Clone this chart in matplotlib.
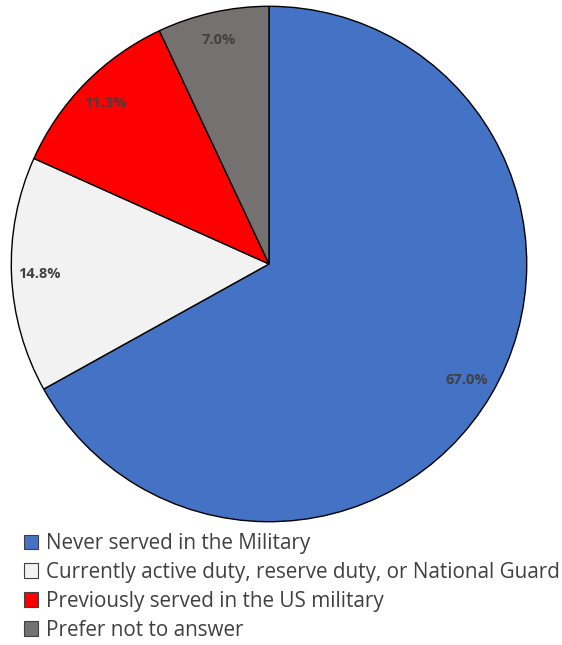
import matplotlib
matplotlib.use("Agg")
import matplotlib.pyplot as plt
from matplotlib.patches import Patch

categories = ["Never served in the Military",
              "Currently active duty, reserve duty, or National Guard",
              "Previously served in the US military",
              "Prefer not to answer"]
values = [67.0, 14.8, 11.3, 7.0]
colors = ["#4472C4", "#F2F2F2", "#FF0000", "#767171"]

W, H = 562, 645
fig = plt.figure(figsize=(W/100, H/100), dpi=100)
cx, cy, r = 269, 264, 259
ax = fig.add_axes([(cx - r)/W, (H - cy - r)/H, 2*r/W, 2*r/H])
wedges, texts, autotexts = ax.pie(values, colors=colors, startangle=90, counterclock=False,
                                  autopct="%.1f%%", pctdistance=0.89, radius=1,
                                  wedgeprops=dict(edgecolor="black", linewidth=1.0),
                                  textprops=dict(fontsize=10.5, fontweight="bold", color="#404040",
                                                 family="Open Sans"))
for t, v in zip(autotexts, values):
    t.set_text(f"{v:.1f}%")
ax.set_xlim(-1.005, 1.005)
ax.set_ylim(-1.005, 1.005)
ax.set_aspect("equal")
ax.axis("off")

handles = [Patch(facecolor=c, edgecolor="#404040", linewidth=0.8) for c in colors]
leg = fig.legend(handles, categories, loc="upper left", bbox_to_anchor=(24/W, 1 - 533/H),
                 frameon=False, handlelength=0.7, handleheight=0.7,
                 handletextpad=0.35, labelspacing=0.38, borderaxespad=0, borderpad=0,
                 prop=dict(family="Open Sans", size=14.9))
for t in leg.get_texts():
    t.set_color("#404040")

fig.savefig("out.png", dpi=100)
